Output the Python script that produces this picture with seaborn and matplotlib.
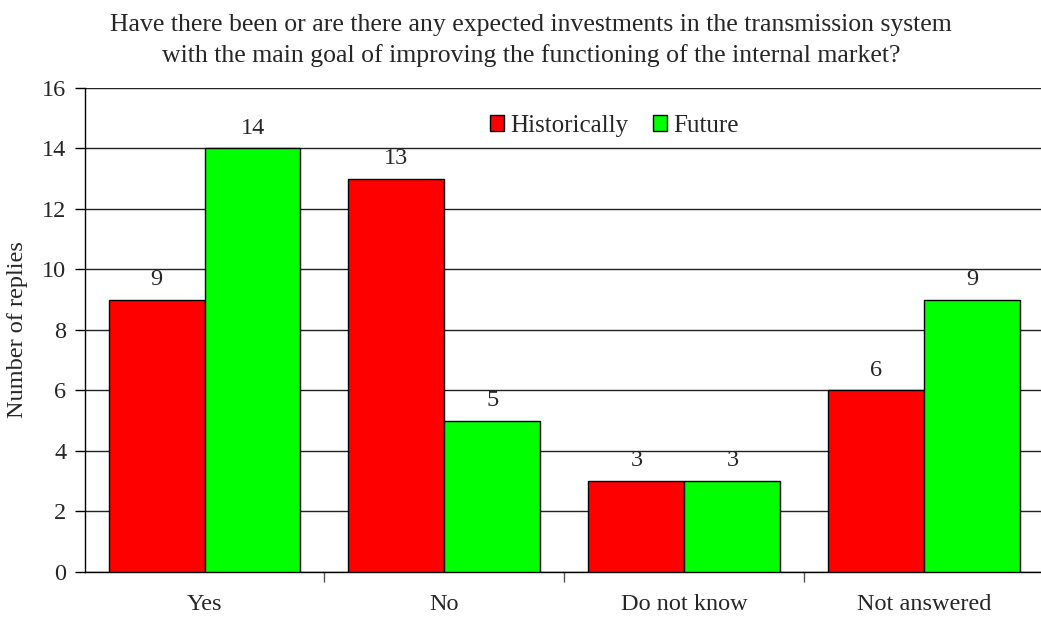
import matplotlib
matplotlib.use("Agg")
import matplotlib.pyplot as plt
import seaborn as sns
import pandas as pd

categories = ["Yes", "No", "Do not know", "Not answered"]
historically = [9, 13, 3, 6]
future = [14, 5, 3, 9]
series_names = ["Historically", "Future"]
y_ticks = [0, 2, 4, 6, 8, 10, 12, 14, 16]

df = pd.DataFrame({
    "category": categories * 2,
    "series": [series_names[0]] * len(categories) + [series_names[1]] * len(categories),
    "value": historically + future,
})

sns.set_theme(style="white")
plt.rcParams["font.family"] = ["Liberation Serif", "DejaVu Serif"]
FS = 17.5
FS_TITLE = 18.5
FS_LEGEND = 18

fig = plt.figure(figsize=(10.41, 6.21), dpi=100)
ax = fig.add_axes([0.0812, 0.079, 0.922, 0.7795])

sns.barplot(data=df, x="category", y="value", hue="series", order=categories,
            hue_order=series_names, palette=["#FF0000", "#00FF00"],
            edgecolor="black", linewidth=1.0, width=0.8, saturation=1,
            ax=ax, zorder=3)

ax.set_ylim(0, 16)
ax.set_yticks(y_ticks)
ax.yaxis.grid(True, color="#222222", linewidth=1.0, zorder=0)
ax.set_axisbelow(True)
ax.tick_params(axis="y", labelsize=FS, direction="out", length=7, width=1, color="black", left=True, pad=6)
ax.tick_params(axis="x", labelsize=FS, length=0, pad=16)

# category separators on the x axis
ax.set_xticks([i + 0.5 for i in range(len(categories) - 1)], minor=True)
ax.tick_params(axis="x", which="minor", direction="out", length=7, width=1, color="#555555", bottom=True)
ax.set_xlim(-0.5, len(categories) - 0.5)

for side in ["top", "right"]:
    ax.spines[side].set_visible(False)
ax.spines["left"].set_color("black")
ax.spines["bottom"].set_color("black")
ax.spines["left"].set_linewidth(1.0)
ax.spines["bottom"].set_linewidth(1.0)

ax.set_xlabel("")
ax.set_ylabel("Number of replies", fontsize=FS, labelpad=10)

for container in ax.containers:
    ax.bar_label(container, labels=[f"{v:g}" for v in container.datavalues],
                 fontsize=FS, padding=7)

leg = ax.legend(loc="center", bbox_to_anchor=(0.552, 0.922), ncol=2, frameon=False,
                fontsize=FS_LEGEND, handlelength=0.58, handleheight=0.58, handletextpad=0.25,
                columnspacing=0.95, borderpad=0, borderaxespad=0)

fig.text(0.51, 1 - 31 / 621, "Have there been or are there any expected investments in the transmission system",
         ha="center", va="baseline", fontsize=FS_TITLE)
fig.text(0.51, 1 - 62 / 621, "with the main goal of improving the functioning of the internal market?",
         ha="center", va="baseline", fontsize=FS_TITLE)

fig.savefig("out.png", dpi=100)
